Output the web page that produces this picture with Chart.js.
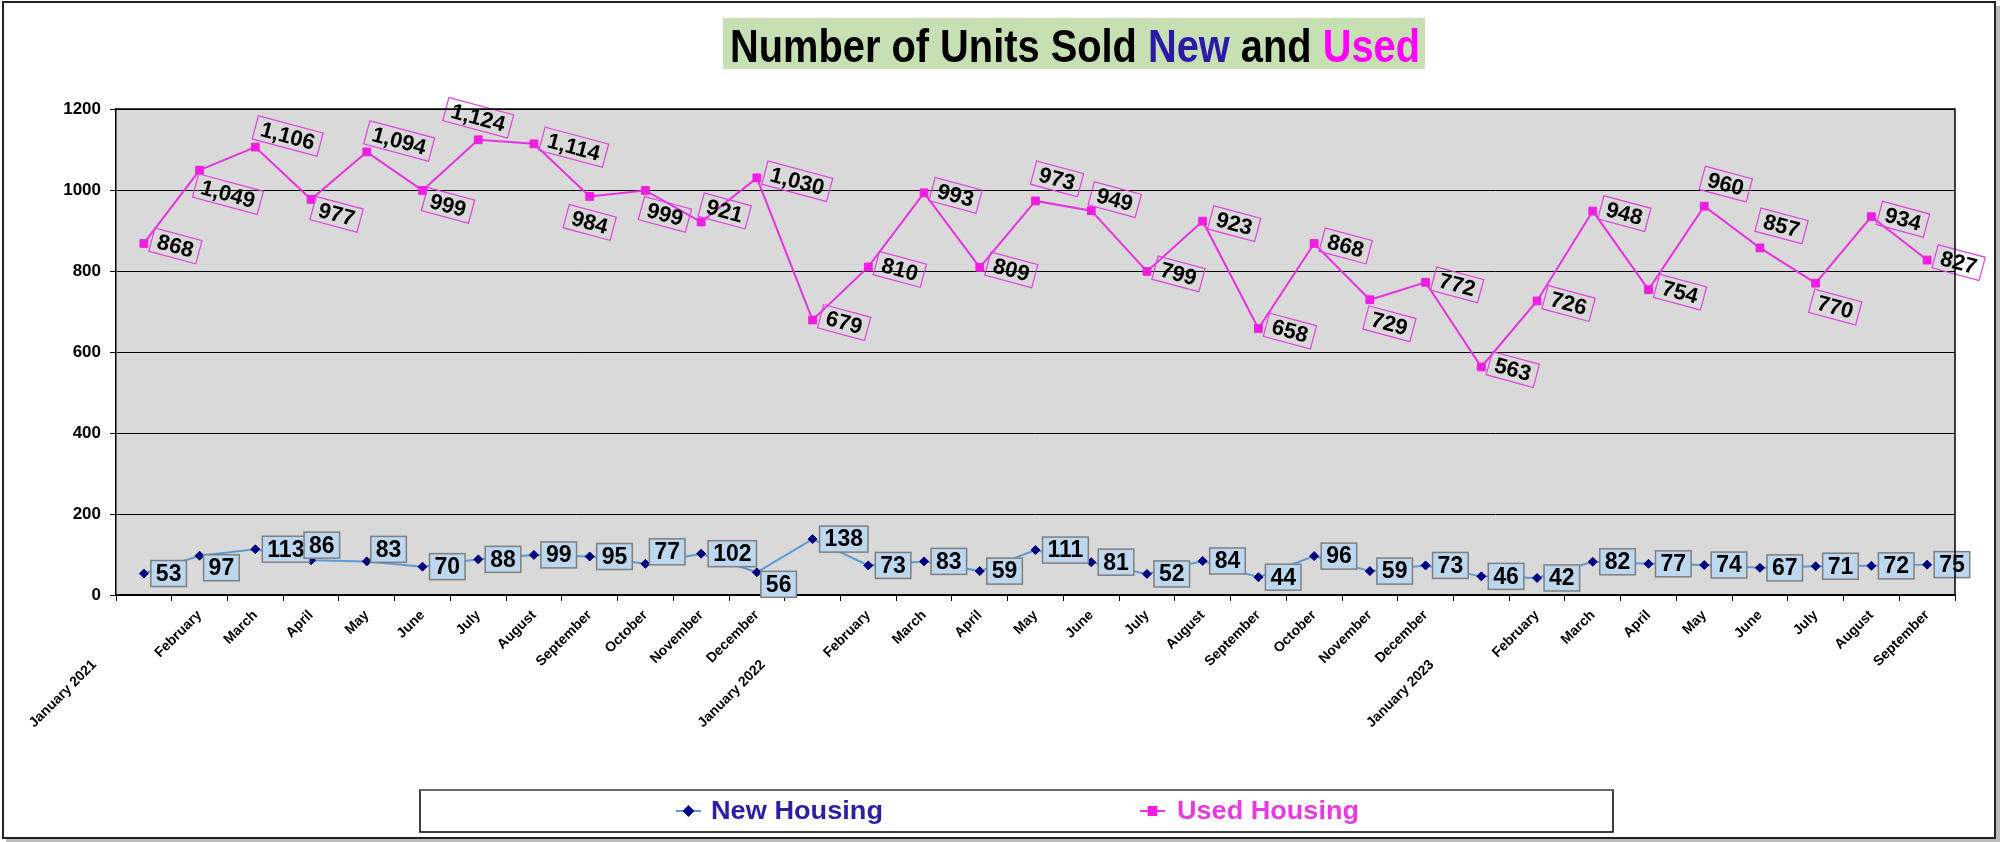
<!DOCTYPE html>
<html>
<head>
<meta charset="utf-8">
<title>Number of Units Sold New and Used</title>
<script src="https://cdn.jsdelivr.net/npm/chart.js@4.4.0/dist/chart.umd.min.js"></script>
<style>
    html, body { margin: 0; padding: 0; background: #fff; }
    #wrap { width: 2000px; height: 842px; }
</style>
</head>
<body>
<div id="wrap"><canvas id="unitsChart" width="2000" height="842"></canvas></div>
<script>
// Monthly units sold, January 2021 - September 2023
const months = [
    'January 2021', 'February', 'March', 'April', 'May', 'June', 'July', 'August',
    'September', 'October', 'November', 'December',
    'January 2022', 'February', 'March', 'April', 'May', 'June', 'July', 'August',
    'September', 'October', 'November', 'December',
    'January 2023', 'February', 'March', 'April', 'May', 'June', 'July', 'August',
    'September'
];
const newHousing = [
    53, 97, 113, 86, 83, 70, 88, 99, 95, 77, 102, 56,
    138, 73, 83, 59, 111, 81, 52, 84, 44, 96, 59, 73,
    46, 42, 82, 77, 74, 67, 71, 72, 75
];
const usedHousing = [
    868, 1049, 1106, 977, 1094, 999, 1124, 1114, 984, 999, 921, 1030,
    679, 810, 993, 809, 973, 949, 799, 923, 658, 868, 729, 772,
    563, 726, 948, 754, 960, 857, 770, 934, 827
];
const yTicks = [0, 200, 400, 600, 800, 1000, 1200];

// where each data label sits next to its point (as placed in the original sheet)
const newLabelPos = [
    'r', 'br', 'r', 'a', 'ar', 'r', 'r', 'r', 'r', 'ar', 'r', 'br',
    'r', 'r', 'r', 'r', 'r', 'r', 'r', 'r', 'r', 'r', 'r', 'r',
    'r', 'r', 'r', 'r', 'r', 'r', 'r', 'r', 'r'
];
const usedLabelPos = [
    'r', 'br', 'ur', 'dr', 'ur', 'dr', 'a', 'r', 'b', 'br', 'ur', 'r',
    'r', 'r', 'r', 'r', 'ar', 'ur', 'r', 'r', 'r', 'r', 'br', 'r',
    'r', 'r', 'r', 'r', 'ar', 'ar', 'br', 'r', 'r'
];

const FONT = "'Liberation Sans', Arial, Helvetica, sans-serif";
const NEW_LINE = '#5B9BD5';
const NEW_MARK = '#000080';
const USED_LINE = '#E633E0';
const USED_MARK = '#F01EE0';

const fmt = v => v.toLocaleString('en-US');

function drawScaledText(ctx, text, x, y, sx) {
    ctx.save();
    ctx.translate(x, y);
    ctx.scale(sx, 1);
    ctx.fillText(text, 0, 0);
    ctx.restore();
    return ctx.measureText(text).width * sx;
}

function drawNewLabel(ctx, pt, text, pos) {
    ctx.font = `bold 23px ${FONT}`;
    const w = ctx.measureText(text).width + 10;
    const h = 26;
    let left = pt.x + 7;
    let cy = pt.y;
    if (pos === 'ar') { left = pt.x + 4; cy = pt.y - 12; }
    if (pos === 'br') { left = pt.x + 4; cy = pt.y + 12; }
    if (pos === 'a') { left = pt.x - 7; cy = pt.y - 15; }

    ctx.fillStyle = '#BDD7EE';
    ctx.fillRect(left, cy - h / 2, w, h);
    ctx.strokeStyle = '#7F7F7F';
    ctx.lineWidth = 1.5;
    ctx.strokeRect(left, cy - h / 2, w, h);
    ctx.fillStyle = '#000';
    ctx.textAlign = 'center';
    ctx.textBaseline = 'middle';
    ctx.fillText(text, left + w / 2, cy + 1);
}

function drawUsedLabel(ctx, pt, text, pos) {
    const ang = 15 * Math.PI / 180;
    ctx.font = `bold 22px ${FONT}`;
    const w = ctx.measureText(text).width + 12;
    const h = 24;
    const hw = w / 2 * Math.cos(ang);
    const hs = w / 2 * Math.sin(ang);
    let cx, cy;
    switch (pos) {
        case 'a':  cx = pt.x;          cy = pt.y - 22; break;
        case 'b':  cx = pt.x;          cy = pt.y + 26; break;
        case 'ar': cx = pt.x + hw - 2; cy = pt.y - 22; break;
        case 'ur': cx = pt.x + hw;     cy = pt.y - 11; break;
        case 'br': cx = pt.x + hw - 4; cy = pt.y + 24; break;
        case 'dr': cx = pt.x + hw + 2; cy = pt.y + 15; break;
        default:   cx = pt.x + 8 + hw; cy = pt.y + hs * 0.4;
    }
    ctx.save();
    ctx.translate(cx, cy);
    ctx.rotate(ang);
    ctx.strokeStyle = '#E040E0';
    ctx.lineWidth = 1.2;
    ctx.strokeRect(-w / 2, -h / 2, w, h);
    ctx.fillStyle = '#000';
    ctx.textAlign = 'center';
    ctx.textBaseline = 'middle';
    ctx.fillText(text, 0, 1);
    ctx.restore();
}

const sheetDecor = {
    id: 'sheetDecor',
    beforeDraw(chart) {
        const { ctx, chartArea: a } = chart;
        ctx.save();
        ctx.fillStyle = '#fff';
        ctx.fillRect(0, 0, chart.width, chart.height);
        // frame with a soft shadow on the right and bottom
        ctx.fillStyle = '#BBBBBB';
        ctx.fillRect(1995, 6, 5, 836);
        ctx.fillRect(6, 838, 1994, 4);
        ctx.strokeStyle = '#222';
        ctx.lineWidth = 2;
        ctx.strokeRect(3, 2, 1992, 836);
        // plot background
        ctx.fillStyle = '#D9D9D9';
        ctx.fillRect(a.left, a.top, a.right - a.left, a.bottom - a.top);
        ctx.restore();
    },
    afterDatasetsDraw(chart) {
        const { ctx } = chart;
        ctx.save();
        chart.getDatasetMeta(0).data.forEach((pt, i) => {
            drawNewLabel(ctx, pt, fmt(newHousing[i]), newLabelPos[i]);
        });
        chart.getDatasetMeta(1).data.forEach((pt, i) => {
            drawUsedLabel(ctx, pt, fmt(usedHousing[i]), usedLabelPos[i]);
        });
        ctx.restore();
    },
    afterDraw(chart) {
        const { ctx, chartArea: a } = chart;
        ctx.save();
        // plot border (top and right)
        ctx.strokeStyle = '#000';
        ctx.lineWidth = 1.5;
        ctx.beginPath();
        ctx.moveTo(a.left, a.top);
        ctx.lineTo(a.right, a.top);
        ctx.lineTo(a.right, a.bottom);
        ctx.stroke();

        // title with its green band
        ctx.fillStyle = '#C6E0B4';
        ctx.fillRect(723, 18, 702, 51);
        const parts = [
            ['Number of Units Sold ', '#000000'],
            ['New', '#2A1AA5'],
            [' and ', '#000000'],
            ['Used', '#FF00FF']
        ];
        ctx.font = `bold 46px ${FONT}`;
        ctx.textAlign = 'left';
        ctx.textBaseline = 'alphabetic';
        const full = parts.map(p => p[0]).join('');
        const sx = 690 / ctx.measureText(full).width;
        let x = 730;
        parts.forEach(([txt, col]) => {
            ctx.fillStyle = col;
            x += drawScaledText(ctx, txt, x, 62, sx);
        });

        // legend box
        ctx.fillStyle = '#fff';
        ctx.fillRect(420, 790, 1193, 42);
        ctx.strokeStyle = '#000';
        ctx.lineWidth = 1.5;
        ctx.strokeRect(420, 790, 1193, 42);
        ctx.strokeStyle = '#666';
        ctx.lineWidth = 2;
        ctx.beginPath();
        ctx.moveTo(420, 790);
        ctx.lineTo(1613, 790);
        ctx.stroke();

        const items = [
            { ds: chart.data.datasets[0], x0: 676, x1: 701, tx: 711, color: '#2B1FA6', width: 172 },
            { ds: chart.data.datasets[1], x0: 1140, x1: 1165, tx: 1177, color: '#E83AE0', width: 182 }
        ];
        items.forEach(it => {
            ctx.strokeStyle = it.ds.borderColor;
            ctx.lineWidth = 2;
            ctx.beginPath();
            ctx.moveTo(it.x0, 811);
            ctx.lineTo(it.x1, 811);
            ctx.stroke();
            ctx.fillStyle = it.ds.pointBackgroundColor;
            ctx.strokeStyle = it.ds.pointBorderColor;
            Chart.helpers.drawPoint(ctx, {
                pointStyle: it.ds.pointStyle,
                radius: it.ds.pointRadius,
                borderWidth: 1
            }, (it.x0 + it.x1) / 2, 811);

            ctx.font = `bold 25px ${FONT}`;
            ctx.fillStyle = it.color;
            ctx.textBaseline = 'alphabetic';
            const s = it.width / ctx.measureText(it.ds.label).width;
            drawScaledText(ctx, it.ds.label, it.tx, 819, s);
        });
        ctx.restore();
    }
};

const ctx = document.getElementById('unitsChart');
const unitsChart = new Chart(ctx, {
    type: 'line',
    data: {
        labels: months,
        datasets: [{
            label: 'New Housing',
            data: newHousing,
            borderColor: NEW_LINE,
            borderWidth: 2,
            pointStyle: 'rectRot',
            pointRadius: 4.5,
            pointBackgroundColor: NEW_MARK,
            pointBorderColor: NEW_MARK,
            pointBorderWidth: 1,
            tension: 0
        }, {
            label: 'Used Housing',
            data: usedHousing,
            borderColor: USED_LINE,
            borderWidth: 2,
            pointStyle: 'rect',
            pointRadius: 5.5,
            pointBackgroundColor: USED_MARK,
            pointBorderColor: USED_MARK,
            pointBorderWidth: 1,
            tension: 0
        }]
    },
    options: {
        responsive: false,
        animation: false,
        layout: {
            padding: { top: 109, right: 45, bottom: 0, left: 0 }
        },
        plugins: {
            legend: { display: false },
            title: { display: false },
            tooltip: { enabled: false }
        },
        scales: {
            x: {
                offset: true,
                afterFit: scale => { scale.height = 247; },
                grid: {
                    offset: true,
                    drawOnChartArea: false,
                    drawTicks: true,
                    tickLength: 6,
                    color: '#000'
                },
                border: { color: '#000', width: 2 },
                ticks: {
                    autoSkip: false,
                    minRotation: 45,
                    maxRotation: 45,
                    padding: 6,
                    color: '#000',
                    font: { family: FONT, size: 14, weight: 'bold' },
                    callback: function (value) {
                        const lbl = this.getLabelForValue(value);
                        // the year labels sit further down the slope
                        return /\d{4}$/.test(lbl) ? lbl + ' '.repeat(18) : lbl;
                    }
                }
            },
            y: {
                min: yTicks[0],
                max: yTicks[yTicks.length - 1],
                afterFit: scale => { scale.width = 116; },
                afterBuildTicks: scale => {
                    scale.ticks = yTicks.map(v => ({ value: v }));
                },
                grid: {
                    color: '#000',
                    lineWidth: 1,
                    drawTicks: true,
                    tickLength: 6
                },
                border: { color: '#000', width: 1.5 },
                ticks: {
                    padding: 9,
                    color: '#000',
                    font: { family: FONT, size: 17, weight: 'bold' },
                    callback: value => String(value)
                }
            }
        }
    },
    plugins: [sheetDecor]
});
</script>
</body>
</html>
